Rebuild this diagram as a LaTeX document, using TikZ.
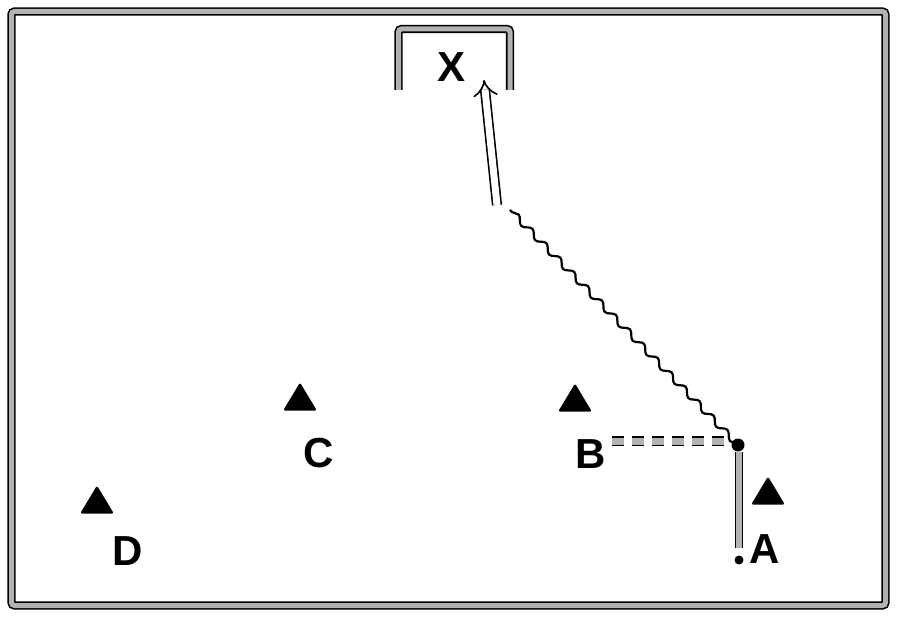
\documentclass[tikz,border=0pt]{standalone}
\usepackage{fontspec}
\setmainfont{Liberation Sans}
\usetikzlibrary{shapes.geometric,decorations.pathmorphing,arrows.meta}
\begin{document}
\begin{tikzpicture}[x=1pt,y=-1pt,
  lbl/.style={font=\fontsize{42}{46}\selectfont\bfseries, inner sep=0pt},
  cone/.style={isosceles triangle, isosceles triangle apex angle=62, shape border rotate=90, fill=black, inner sep=0pt, minimum height=28pt, rounded corners=1.5pt},
  dbl/.style={draw=black, line width=1.6pt, double=gray!60, double distance=5pt},
  run/.style={line width=1.4pt, double=gray!60, double distance=6pt},
  ]
\useasboundingbox (0,0) rectangle (900,620);
% frame
\draw[dbl, rounded corners=3pt] (11.5,11.5) rectangle (885.5,605.5);
% goal
\draw[dbl, rounded corners=3pt] (398.5,90) -- (398.5,29) -- (510,29) -- (510,90);
% cones
\node[cone] (c1) at (300,401) {};
\node[cone] (c2) at (575,402) {};
\node[cone] (c3) at (768,495) {};
\node[cone] (c4) at (97,504) {};
% labels
\node[lbl] (X) at (452,67) {X};
\node[lbl] (C) at (319,453) {C};
\node[lbl] (B) at (591,454) {B};
\node[lbl] (D) at (128,551) {D};
\node[lbl] (A) at (765,549) {A};
% player dot
\node[circle, fill=black, inner sep=0pt, minimum size=9pt] (dot) at (739,560) {};
% key points
\coordinate (J) at (738,445);
\coordinate (J2) at (739,452);
\coordinate (W) at (510,210);
\coordinate (S) at (497,205);
\coordinate (G) at (484,80);
\coordinate (P) at (612,441);
\coordinate (Pe) at (724,441);
% run from A
\draw[run] ([yshift=7pt]dot.north) -- (J2);
% pass from B
\draw[line width=1.4pt, dash pattern=on 12pt off 8pt, double=gray!60, double distance=7pt] (P) -- (Pe);
% dribble
\draw[line width=2.2pt, decorate, decoration={snake, segment length=20pt, amplitude=3pt, pre length=2pt, post length=2pt}] (J) -- (W);
\fill (J) circle (6.5pt);
% shot
\draw[line width=1.6pt, double=white, double distance=7pt, -{Implies}] (S) -- (G);
\end{tikzpicture}
\end{document}
